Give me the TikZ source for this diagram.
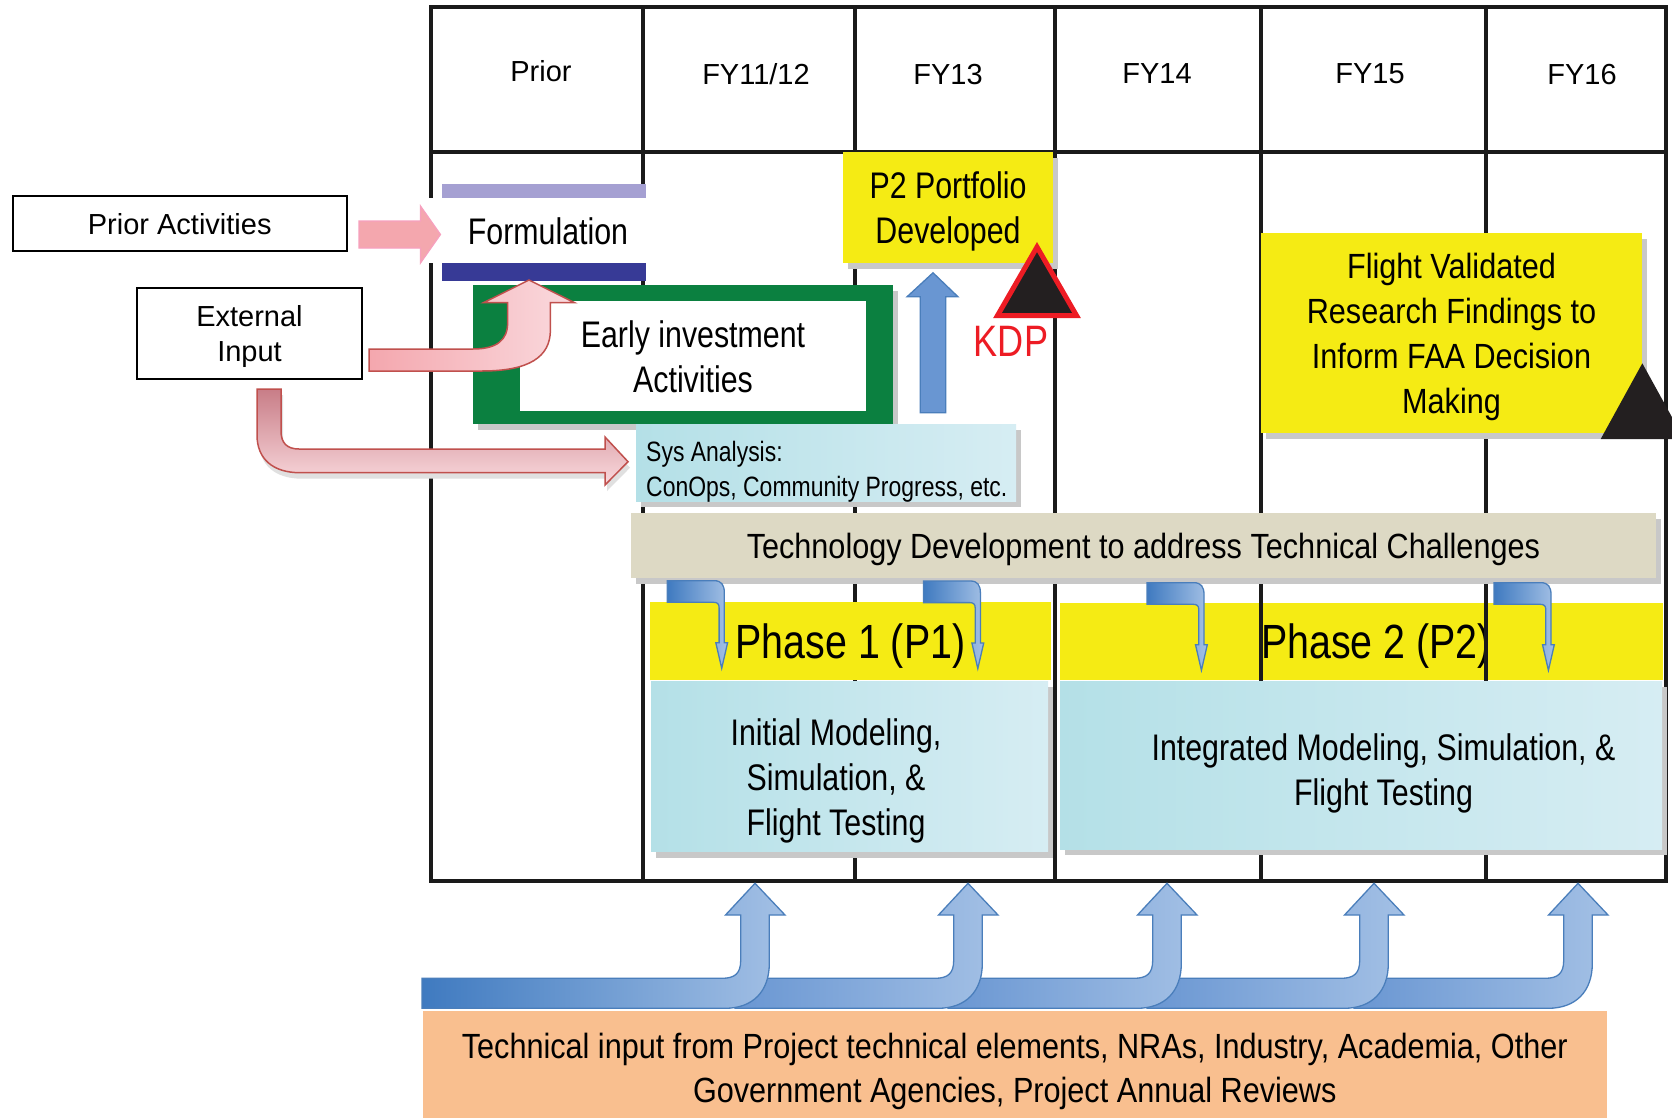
\documentclass[tikz,border=0pt]{standalone}
\usepackage{fontspec}
\setmainfont{Liberation Sans}
\newfontfamily\narrowfont[FakeStretch=0.82]{Liberation Sans}
\newfontfamily\midfont[FakeStretch=0.875]{Liberation Sans}
\usepackage{tikz}
\usetikzlibrary{positioning,calc,shadows}

\definecolor{gridblack}{RGB}{26,26,26}
\definecolor{boxyellow}{RGB}{245,235,20}
\definecolor{earlygreen}{RGB}{11,128,64}
\definecolor{techgray}{RGB}{221,217,196}
\definecolor{cyanleft}{RGB}{180,224,231}
\definecolor{cyanright}{RGB}{214,237,243}
\definecolor{inputorange}{RGB}{249,191,143}
\definecolor{lavender}{RGB}{165,160,210}
\definecolor{formblue}{RGB}{55,58,150}
\definecolor{pinkfill}{RGB}{244,167,174}
\definecolor{pinklight}{RGB}{250,218,222}
\definecolor{pinkdark}{RGB}{200,125,135}
\definecolor{pinkedge}{RGB}{192,80,77}
\definecolor{pinkline}{RGB}{247,160,190}
\definecolor{blueedge}{RGB}{74,126,187}
\definecolor{bluelight}{RGB}{163,192,229}
\definecolor{bluemid}{RGB}{105,150,210}
\definecolor{bluedark}{RGB}{63,122,192}
\definecolor{kdpred}{RGB}{237,28,36}
\definecolor{kdpblack}{RGB}{35,31,32}
\definecolor{shadowgray}{RGB}{200,200,200}

\begin{document}
\begin{tikzpicture}[x=1pt, y=-1pt,
    gridln/.style={draw=gridblack, line width=3.5, line cap=rect},
    txt/.style={inner sep=0, text depth=0pt, align=center},
    hdr/.style={txt, font=\fontsize{29}{35}\selectfont},
    lbl/.style={txt, font=\narrowfont\fontsize{37}{45}\selectfont},
    smalllbl/.style={txt, font=\midfont\fontsize{35}{45}\selectfont},
    shadowed/.style={drop shadow={shadow xshift=5pt, shadow yshift=-6pt, fill=shadowgray, opacity=1}},
    ybox/.style={fill=boxyellow},
    cbox/.style={left color=cyanleft, right color=cyanright},
    pinkarr/.style={draw=pinkedge, line width=1.5},
    bluearr/.style={draw=blueedge, line width=1.3}]

\useasboundingbox (0,0) rectangle (1672,1118);
\clip (0,0) rectangle (1672,1118);
\fill[white] (0,0) rectangle (1672,1118);

% time line grid
\foreach \xx in {431,643,855,1055,1261,1486,1666}
  \draw[gridln] (\xx,7) -- (\xx,881);
\draw[gridln] (431,7) -- (1666,7);
\draw[gridln] (431,152) -- (1666,152);
\draw[gridln] (431,881) -- (1666,881);

\node[hdr] (hprior) at (541,71) {Prior};
\node[hdr] (hfy12) at (756,74) {FY11/12};
\node[hdr] (hfy13) at (948,74) {FY13};
\node[hdr] (hfy14) at (1157,74) {FY14};
\node[hdr] (hfy15) at (1370,74) {FY15};
\node[hdr] (hfy16) at (1582,74) {FY16};

% inputs on the left
\node[hdr, draw=black, line width=2, fill=white, minimum width=334.5, minimum height=55] (prior) at (179.75,223.5) {Prior Activities};
\node[hdr, draw=black, line width=2, fill=white, minimum width=225, minimum height=91] (extin) at (249.5,333.5) {External\\Input};

% formulation
\fill[white] (429,198) rectangle (649,263);
\fill[lavender] (442,184) rectangle (646,198);
\fill[formblue] (442,263) rectangle (646,281);
\node[lbl] (formul) at (548,231) {Formulation};

\coordinate (pa) at ($(prior.east)+(11,11)$);
\path[fill=pinkfill, draw=pinkline, line width=1.2, shift={(pa)}]
  (0,-13.5) -- (61.5,-13.5) -- (61.5,-28.5) -- (81.5,0) -- (61.5,28.5) -- (61.5,13.5) -- (0,13.5) -- cycle;

% early investment
\fill[earlygreen, shadowed] (473,285) rectangle (893,424);
\fill[white] (520,301) rectangle (866,411);
\node[lbl] (early) at (693,357) {Early investment\\Activities};

\coordinate (pb) at ($(extin.east)+(6,26.5)$);
\path[pinkarr, left color=pinkfill, right color=pinklight, shift={(pb)}]
  (0,-11) -- (104,-11) .. controls (128,-11) and (138.6,-20) .. (138.6,-37)
  -- (138.6,-57.3) -- (114.5,-57.3) -- (160,-80) -- (205.5,-57.3) -- (181.4,-57.3)
  -- (181.4,-30) .. controls (181.4,-3) and (160,11) .. (113,11) -- (0,11) -- cycle;

% system analysis
\node[cbox, shadowed, minimum width=380, minimum height=77] (sysan) at (826,462.5) {};
\node[txt, align=left, anchor=west, font=\narrowfont\fontsize{28}{35}\selectfont] (sysantxt) at (646,469) {Sys Analysis:\\ConOps, Community Progress, etc.};

\coordinate (pc) at ($(extin.south)+(19.5,9)$);
\path[pinkarr, top color=pinkdark, middle color=pinkfill, bottom color=pinklight, shift={(pc)},
      drop shadow={shadow xshift=2pt, shadow yshift=-6pt, fill=black!12, opacity=1}]
  (-12,0) -- (12,0) -- (12,42) .. controls (12,54) and (18,60) .. (30,60) -- (336,60)
  -- (336,48) -- (359,72.7) -- (336,96) -- (336,83.7) -- (31,83.7)
  .. controls (4,83.7) and (-12,70) .. (-12,46) -- cycle;

% P2 portfolio and KDP
\node[ybox, shadowed, lbl, minimum width=210, minimum height=111] (p2port) at (948,207.5) {P2 Portfolio\\Developed};

\coordinate (pd) at ($(sysan.north)+(107,-11)$);
\path[bluearr, left color=bluemid, middle color=bluelight, right color=bluemid, shift={(pd)}]
  (-12.8,0) -- (-12.8,-116) -- (-26,-116) -- (0,-140) -- (25,-116) -- (12.8,-116) -- (12.8,0) -- cycle;

\draw[fill=kdpblack, draw=kdpred, line width=5] (1037,247) -- (1076.5,315.5) -- (997.5,315.5) -- cycle;
\node[txt, text=kdpred, font=\narrowfont\fontsize{44}{50}\selectfont] (kdp) at (1011,341.7) {KDP};

% flight validated findings
\node[ybox, shadowed, smalllbl, minimum width=381, minimum height=200] (flightval) at (1451.5,333.3) {Flight Validated\\Research Findings to\\Inform FAA Decision\\Making};
\fill[kdpblack] (1642.3,363.3) -- (1684,439) -- (1600.7,439) -- cycle;

% technology development and phases
\node[fill=techgray, shadowed, smalllbl, minimum width=1025, minimum height=64.4] (techdev) at (1143.4,545.5) {Technology Development to address Technical Challenges};

\node[ybox, txt, font=\narrowfont\fontsize{48}{55}\selectfont, minimum width=401, minimum height=77.7] (phaseone) at (850.5,641.2) {Phase 1 (P1)};
\node[ybox, txt, font=\narrowfont\fontsize{48}{55}\selectfont, minimum width=603, minimum height=77.3] (phasetwo) at (1361.5,641.3) {\hspace*{29pt}Phase 2 (P2)};
\draw[gridln] (1261,603) -- (1261,680);
\draw[gridln] (1486,603) -- (1486,680);

\node[cbox, shadowed, minimum width=397, minimum height=170.7] (initmod) at (849.5,766.35) {};
\node[lbl] (initmodtxt) at (836,777.2) {Initial Modeling,\\Simulation, \&\\Flight Testing};
\node[cbox, shadowed, minimum width=602, minimum height=168] (intmod) at (1361,765) {};
\node[lbl] (intmodtxt) at (1383.5,769.5) {Integrated Modeling, Simulation, \&\\Flight Testing};

\foreach \ax/\ay in {667.3/580.7, 923.4/581, 1147/582.7, 1494/582.7}
  \path[bluearr, left color=bluedark, right color=bluelight, shift={(\ax,\ay)}]
    (0,0) -- (47,0) .. controls (54,0) and (57,4) .. (57,12) -- (57,62) -- (60.3,62)
    -- (54.4,87.6) -- (48.5,62) -- (51.8,62) -- (51.8,27)
    .. controls (51.8,23) and (50,21.6) .. (46,21.6) -- (0,21.6) -- cycle;

% technical input
\node[fill=inputorange, smalllbl, font=\midfont\fontsize{35}{44}\selectfont, minimum width=1184, minimum height=114] (techin) at (1014.75,1068) {Technical input from Project technical elements, NRAs, Industry, Academia, Other\\Government Agencies, Project Annual Reviews};

\foreach \tx/\bs/\lc [count=\k] in {1578/-224/bluemid, 1374/-227/bluemid, 1167/-219/bluemid, 968/-233/bluemid, 755/-333/bluedark} {
  \coordinate (tip\k) at (\tx,883.3);
  \path[bluearr, left color=\lc, right color=bluelight, shift={(tip\k)}]
    (0,0) -- (30,31.7) -- (14.3,31.7) -- (14.3,80) .. controls (14.3,108) and (-2,125) .. (-30,125)
    -- (\bs,125) -- (\bs,95) -- (-33,95) .. controls (-20,95) and (-14.3,90) .. (-14.3,77)
    -- (-14.3,31.7) -- (-29.5,31.7) -- cycle;
}
\end{tikzpicture}
\end{document}
